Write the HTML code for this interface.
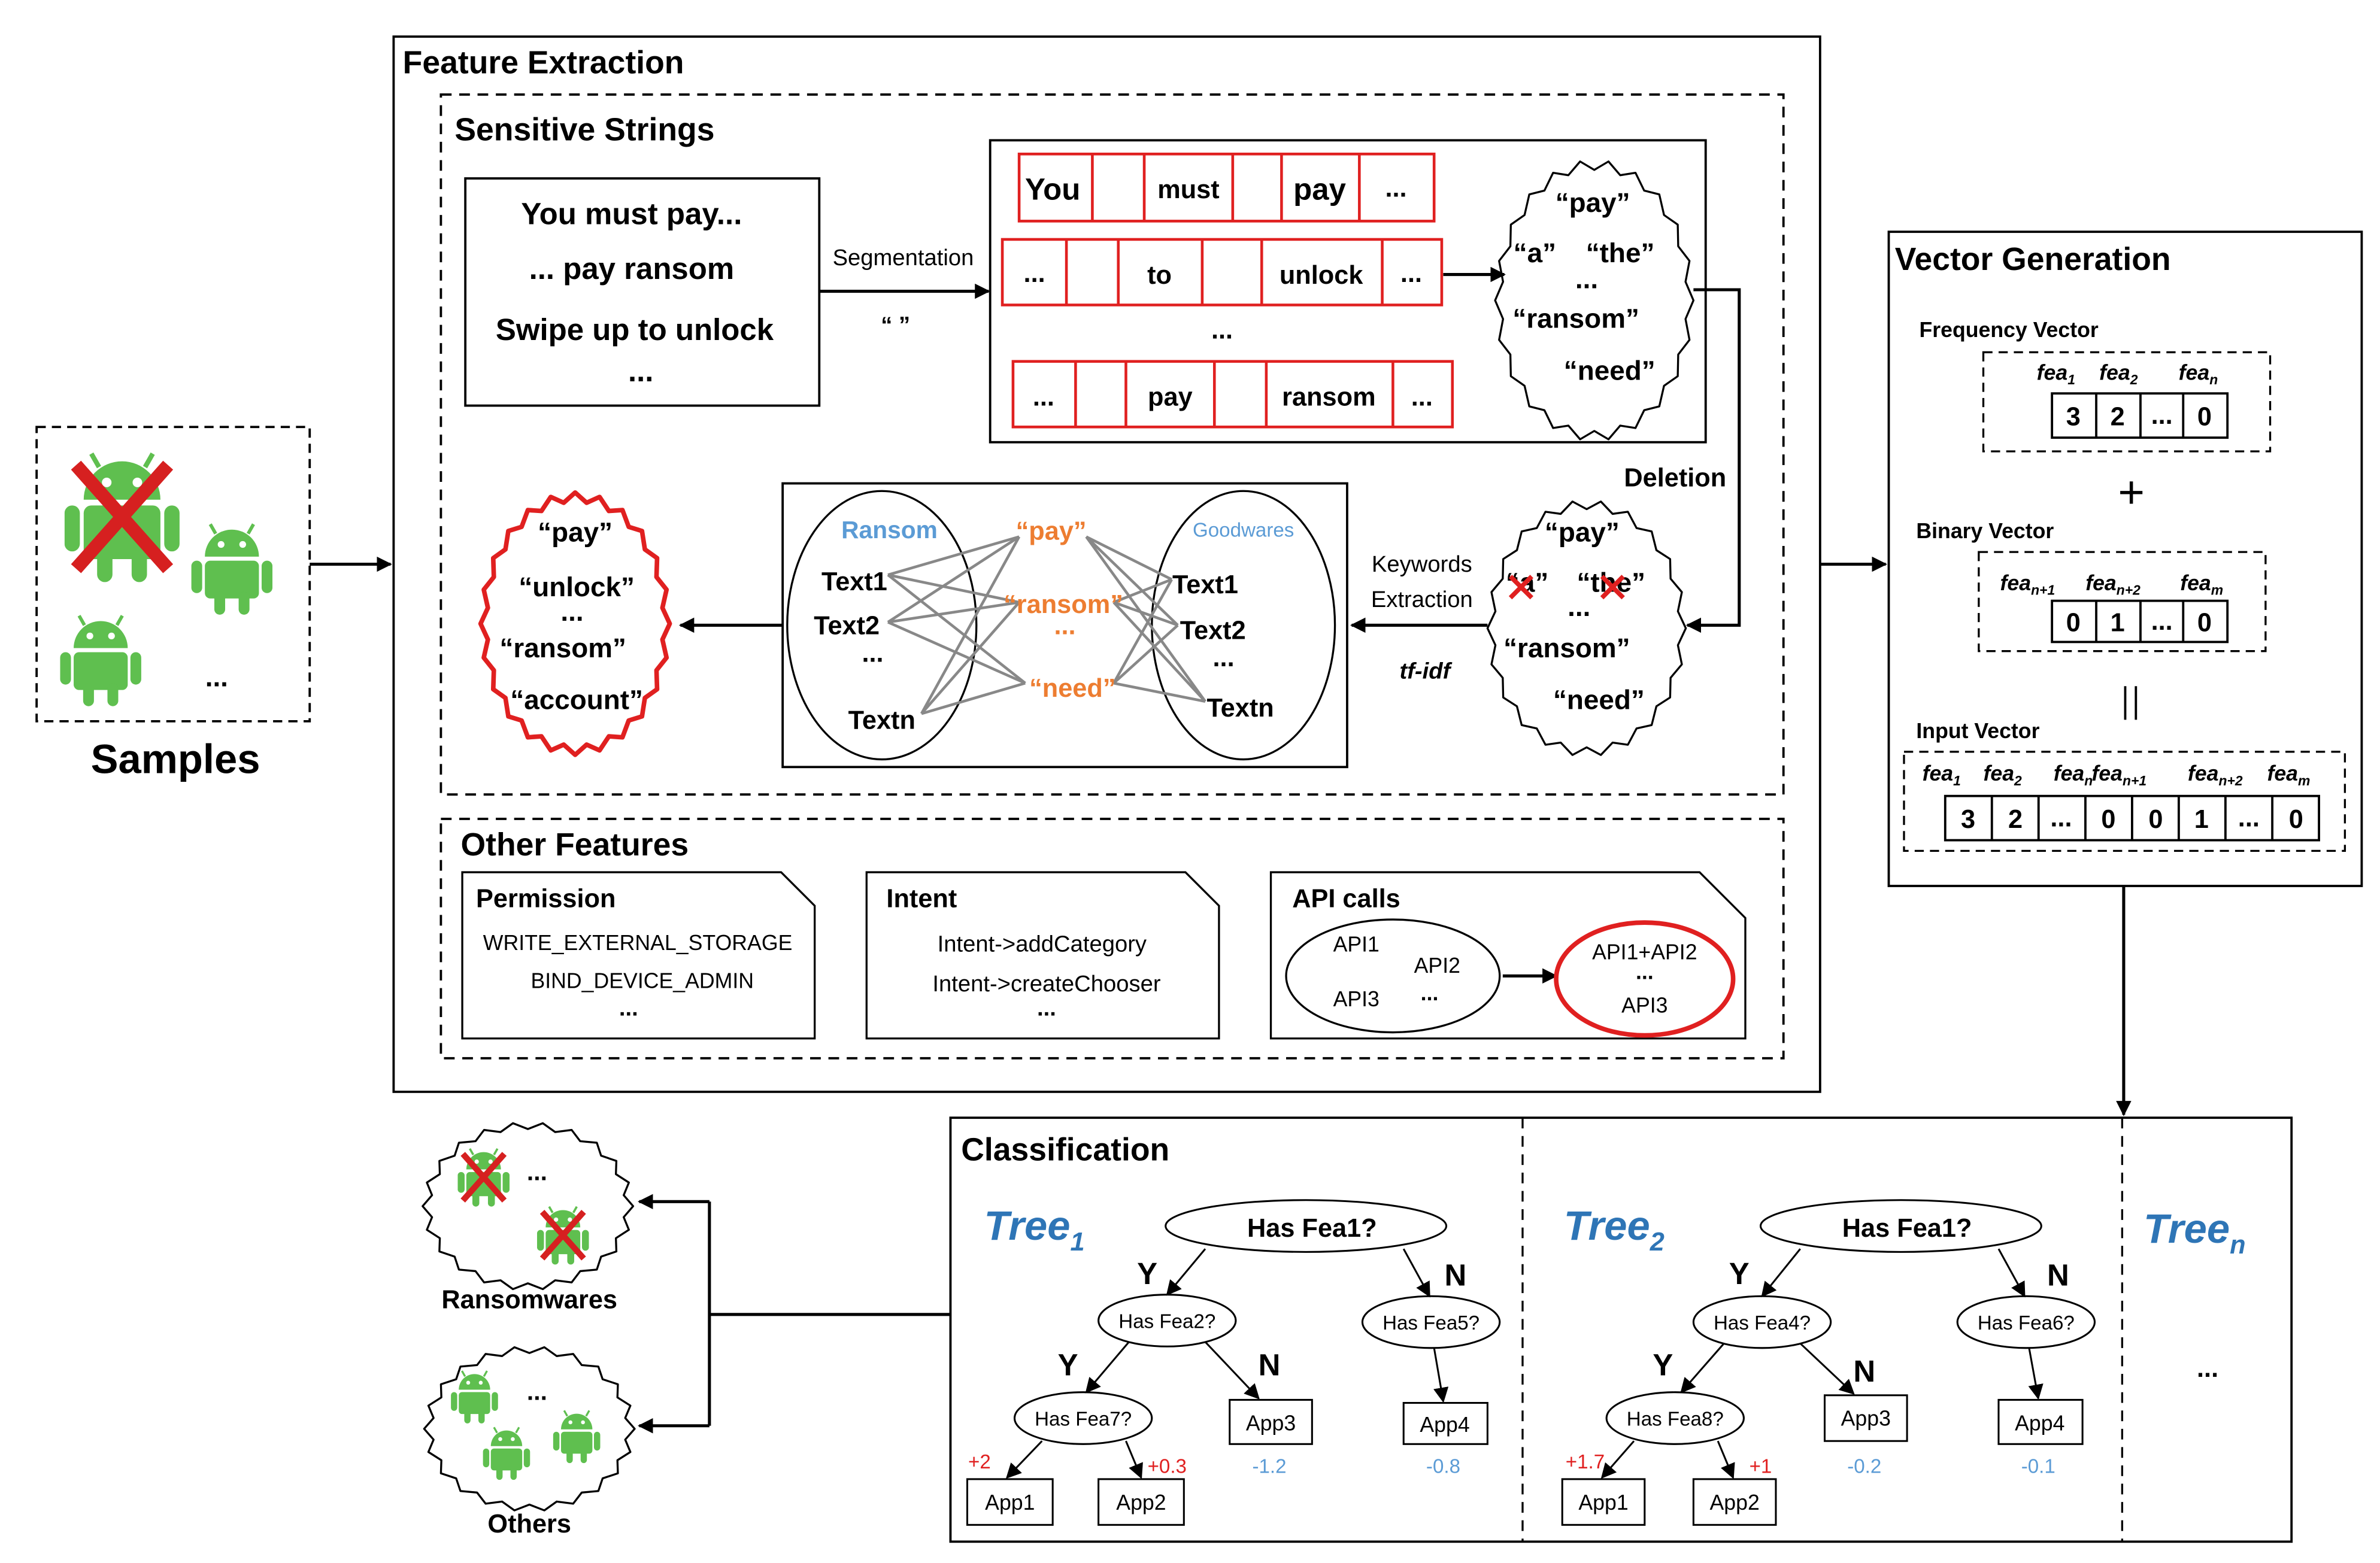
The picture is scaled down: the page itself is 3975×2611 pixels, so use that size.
<!DOCTYPE html>
<html><head><meta charset="utf-8"><style>
html,body{margin:0;padding:0;background:#fff}
svg{display:block}
text{font-family:"Liberation Sans",sans-serif}
.b{font-weight:bold}
</style></head><body>
<svg id="s" width="3975" height="2611" viewBox="0 0 1560 1025" preserveAspectRatio="none" xmlns="http://www.w3.org/2000/svg">
<defs>
<marker id="ar" markerWidth="10" markerHeight="10" refX="9" refY="5" orient="auto" markerUnits="userSpaceOnUse"><path d="M0,0 L10,5 L0,10 z" fill="#000"/></marker>
<symbol id="droid" viewBox="0 0 60 70">
<path d="M10,26 A20,20 0 0 1 50,26 Z" fill="#5fbf4f"/>
<line x1="18" y1="9" x2="14" y2="2" stroke="#5fbf4f" stroke-width="2.5"/>
<line x1="42" y1="9" x2="46" y2="2" stroke="#5fbf4f" stroke-width="2.5"/>
<circle cx="22" cy="17" r="2.5" fill="#fff"/><circle cx="38" cy="17" r="2.5" fill="#fff"/>
<rect x="10" y="29" width="40" height="28" rx="4" fill="#5fbf4f"/>
<rect x="0" y="29" width="8" height="24" rx="4" fill="#5fbf4f"/>
<rect x="52" y="29" width="8" height="24" rx="4" fill="#5fbf4f"/>
<rect x="17" y="52" width="8" height="17" rx="4" fill="#5fbf4f"/>
<rect x="35" y="52" width="8" height="17" rx="4" fill="#5fbf4f"/>
</symbol>
<symbol id="bad" viewBox="0 0 60 70">
<use href="#droid" width="60" height="70"/>
<path d="M6,8 L54,62 M54,8 L6,62" stroke="#d62020" stroke-width="7"/>
</symbol>
</defs>
<rect width="1560" height="1025" fill="#fff"/>

<!-- Samples -->
<rect x="24" y="280" width="179" height="193" fill="none" stroke="#000" stroke-width="1.5" stroke-dasharray="6,4"/>
<use href="#bad" x="42" y="295" width="76" height="88"/>
<use href="#droid" x="124" y="342" width="56" height="62"/>
<use href="#droid" x="38" y="402" width="56" height="62"/>
<text x="142" y="450" class="b" font-size="18" text-anchor="middle">...</text>
<text x="115" y="507" class="b" font-size="27" text-anchor="middle">Samples</text>
<line x1="203" y1="370" x2="256" y2="370" stroke="#000" stroke-width="2" marker-end="url(#ar)"/>

<!-- Feature Extraction -->
<rect x="258" y="24" width="935" height="692" fill="none" stroke="#000" stroke-width="1.5"/>
<text x="264" y="48" class="b" font-size="21">Feature Extraction</text>
<rect x="289" y="62" width="880" height="459" fill="none" stroke="#000" stroke-width="1.5" stroke-dasharray="7,5"/>
<text x="298" y="92" class="b" font-size="21">Sensitive Strings</text>
<rect x="305" y="117" width="232" height="149" fill="none" stroke="#000" stroke-width="1.5"/>
<g class="b" font-size="20" text-anchor="middle">
<text x="414" y="147">You must pay...</text>
<text x="414" y="183">... pay ransom</text>
<text x="416" y="223">Swipe up to unlock</text>
<text x="420" y="250">...</text>
</g>
<text x="592" y="174" font-size="15" text-anchor="middle">Segmentation</text>
<text x="587" y="218" class="b" font-size="15" text-anchor="middle">“ ”</text>
<line x1="537" y1="191" x2="648" y2="191" stroke="#000" stroke-width="2" marker-end="url(#ar)"/>
<rect x="649" y="92" width="469" height="198" fill="none" stroke="#000" stroke-width="1.5"/>
<g fill="none" stroke="#e02020" stroke-width="1.8">
<rect x="668" y="101" width="272" height="44"/><path d="M716,101V145M750,101V145M808,101V145M840,101V145M891,101V145"/>
<rect x="657" y="157" width="288" height="43"/><path d="M699,157V200M733,157V200M788,157V200M827,157V200M906,157V200"/>
<rect x="664" y="237" width="288" height="43"/><path d="M705,237V280M738,237V280M796,237V280M830,237V280M913,237V280"/>
</g>
<g class="b" text-anchor="middle">
<text x="690" y="131" font-size="20">You</text><text x="779" y="130" font-size="17">must</text><text x="865" y="131" font-size="20">pay</text><text x="915" y="129" font-size="17">...</text>
<text x="678" y="185" font-size="17">...</text><text x="760" y="186" font-size="17">to</text><text x="866" y="186" font-size="17">unlock</text><text x="925" y="185" font-size="17">...</text>
<text x="801" y="222" font-size="17">...</text>
<text x="684" y="266" font-size="17">...</text><text x="767" y="266" font-size="17">pay</text><text x="871" y="266" font-size="17">ransom</text><text x="932" y="266" font-size="17">...</text>
</g>
<line x1="946" y1="180" x2="986" y2="180" stroke="#000" stroke-width="2" marker-end="url(#ar)"/>
<polyline points="1110,190 1140,190 1140,410 1106,410" fill="none" stroke="#000" stroke-width="2" marker-end="url(#ar)"/>
<text x="1098" y="319" class="b" font-size="17" text-anchor="middle">Deletion</text>

<g id="clouds"></g>
<ellipse id="fb1" cx="1045" cy="197" rx="63" ry="90" fill="none" stroke="#000" stroke-width="1.3"/>
<ellipse id="fb2" cx="1040" cy="412" rx="63" ry="82" fill="none" stroke="#000" stroke-width="1.3"/>
<ellipse id="fb3" cx="377" cy="409" rx="60" ry="84" fill="none" stroke="#e02020" stroke-width="3"/>
<ellipse id="fb4" cx="346" cy="791" rx="67" ry="53" fill="none" stroke="#000" stroke-width="1.3"/>
<ellipse id="fb5" cx="347" cy="937" rx="67" ry="52" fill="none" stroke="#000" stroke-width="1.3"/>

<g class="b" font-size="18" text-anchor="middle">
<text x="1044" y="139">“pay”</text><text x="1006" y="172">“a”</text><text x="1062" y="172">“the”</text><text x="1040" y="189">...</text>
<text x="1033" y="215">“ransom”</text><text x="1055" y="249">“need”</text>
<text x="1037" y="355">“pay”</text><text x="1001" y="388">“a”</text><text x="1056" y="388">“the”</text><text x="1035" y="404">...</text>
<text x="1027" y="431">“ransom”</text><text x="1048" y="465">“need”</text>
</g>
<path d="M990,378 l14,14 M1004,378 l-14,14 M1050,378 l14,14 M1064,378 l-14,14" stroke="#e02020" stroke-width="3"/>

<line x1="975" y1="410" x2="886" y2="410" stroke="#000" stroke-width="2" marker-end="url(#ar)"/>
<text x="932" y="375" font-size="15" text-anchor="middle">Keywords</text>
<text x="932" y="398" font-size="15" text-anchor="middle">Extraction</text>
<text x="934" y="445" font-size="15" font-style="italic" font-weight="bold" text-anchor="middle">tf-idf</text>

<rect x="513" y="317" width="370" height="186" fill="none" stroke="#000" stroke-width="1.5"/>
<ellipse cx="578" cy="410" rx="62" ry="88" fill="none" stroke="#000" stroke-width="1.3"/>
<ellipse cx="815" cy="410" rx="60" ry="88" fill="none" stroke="#000" stroke-width="1.3"/>
<g stroke="#888" stroke-width="1.8">
<line x1="582" y1="377" x2="668" y2="352"/><line x1="582" y1="377" x2="668" y2="395"/><line x1="582" y1="377" x2="672" y2="448"/>
<line x1="582" y1="408" x2="668" y2="352"/><line x1="582" y1="408" x2="668" y2="395"/><line x1="582" y1="408" x2="672" y2="448"/>
<line x1="604" y1="468" x2="668" y2="352"/><line x1="604" y1="468" x2="668" y2="395"/><line x1="604" y1="468" x2="672" y2="448"/>
<line x1="712" y1="352" x2="768" y2="380"/><line x1="712" y1="352" x2="772" y2="410"/><line x1="712" y1="352" x2="790" y2="460"/>
<line x1="730" y1="395" x2="768" y2="380"/><line x1="730" y1="395" x2="772" y2="410"/><line x1="730" y1="395" x2="790" y2="460"/>
<line x1="730" y1="448" x2="768" y2="380"/><line x1="730" y1="448" x2="772" y2="410"/><line x1="730" y1="448" x2="790" y2="460"/>
</g>
<text x="583" y="353" class="b" font-size="16" fill="#5b9bd5" text-anchor="middle">Ransom</text>
<text x="815" y="352" font-size="13" fill="#5b9bd5" text-anchor="middle">Goodwares</text>
<g class="b" font-size="17" text-anchor="middle">
<text x="560" y="387">Text1</text><text x="555" y="416">Text2</text><text x="572" y="434">...</text><text x="578" y="478">Textn</text>
<text x="790" y="389">Text1</text><text x="795" y="419">Text2</text><text x="802" y="437">...</text><text x="813" y="470">Textn</text>
</g>
<g class="b" font-size="17" fill="#ed7d31" text-anchor="middle">
<text x="689" y="354">“pay”</text><text x="697" y="402">“ransom”</text><text x="698" y="416">...</text><text x="703" y="457">“need”</text>
</g>
<line x1="513" y1="410" x2="446" y2="410" stroke="#000" stroke-width="2" marker-end="url(#ar)"/>
<g class="b" font-size="18" text-anchor="middle">
<text x="377" y="355">“pay”</text><text x="378" y="391">“unlock”</text><text x="375" y="407">...</text>
<text x="369" y="431">“ransom”</text><text x="378" y="465">“account”</text>
</g>

<!-- Other features -->
<rect x="289" y="537" width="880" height="157" fill="none" stroke="#000" stroke-width="1.5" stroke-dasharray="7,5"/>
<text x="302" y="561" class="b" font-size="21">Other Features</text>
<g fill="none" stroke="#000" stroke-width="1.3">
<path d="M303,572 H512 L534,594 V681 H303 Z"/>
<path d="M568,572 H777 L799,594 V681 H568 Z"/>
<path d="M833,572 H1114 L1144,602 V681 H833 Z"/>
</g>
<text x="312" y="595" class="b" font-size="17">Permission</text>
<text x="418" y="623" font-size="14" text-anchor="middle">WRITE_EXTERNAL_STORAGE</text>
<text x="421" y="648" font-size="14" text-anchor="middle">BIND_DEVICE_ADMIN</text>
<text x="412" y="666" class="b" font-size="15" text-anchor="middle">...</text>
<text x="581" y="595" class="b" font-size="17">Intent</text>
<text x="683" y="624" font-size="15" text-anchor="middle">Intent-&gt;addCategory</text>
<text x="686" y="650" font-size="15" text-anchor="middle">Intent-&gt;createChooser</text>
<text x="686" y="666" class="b" font-size="15" text-anchor="middle">...</text>
<text x="847" y="595" class="b" font-size="17">API calls</text>
<ellipse cx="913" cy="640" rx="70" ry="37" fill="none" stroke="#000" stroke-width="1.3"/>
<g font-size="14" text-anchor="middle">
<text x="889" y="624">API1</text><text x="942" y="638">API2</text><text x="889" y="660">API3</text><text x="937" y="656" class="b">...</text>
</g>
<line x1="985" y1="640" x2="1020" y2="640" stroke="#000" stroke-width="2" marker-end="url(#ar)"/>
<ellipse cx="1078" cy="642" rx="58" ry="37" fill="none" stroke="#e02020" stroke-width="3"/>
<g font-size="14" text-anchor="middle">
<text x="1078" y="629">API1+API2</text><text x="1078" y="642" class="b">...</text><text x="1078" y="664">API3</text>
</g>

<!-- Vector Generation -->
<line x1="1193" y1="370" x2="1236" y2="370" stroke="#000" stroke-width="2" marker-end="url(#ar)"/>
<rect x="1238" y="152" width="310" height="429" fill="none" stroke="#000" stroke-width="1.5"/>
<text x="1242" y="177" class="b" font-size="21">Vector Generation</text>
<text x="1258" y="221" class="b" font-size="14">Frequency Vector</text>
<rect x="1300" y="231" width="188" height="65" fill="none" stroke="#000" stroke-width="1.3" stroke-dasharray="6,4"/>
<g font-family="Liberation Serif" font-style="italic" font-size="14" font-weight="bold">
<text x="1335" y="249">fea<tspan font-size="9" dy="3">1</tspan></text><text x="1376" y="249">fea<tspan font-size="9" dy="3">2</tspan></text><text x="1428" y="249">fea<tspan font-size="9" dy="3">n</tspan></text>
<text x="1311" y="387">fea<tspan font-size="9" dy="3">n+1</tspan></text><text x="1367" y="387">fea<tspan font-size="9" dy="3">n+2</tspan></text><text x="1429" y="387">fea<tspan font-size="9" dy="3">m</tspan></text>
<text x="1260" y="512">fea<tspan font-size="9" dy="3">1</tspan></text><text x="1300" y="512">fea<tspan font-size="9" dy="3">2</tspan></text><text x="1346" y="512">fea<tspan font-size="9" dy="3">n</tspan></text><text x="1371" y="512">fea<tspan font-size="9" dy="3">n+1</tspan></text><text x="1434" y="512">fea<tspan font-size="9" dy="3">n+2</tspan></text><text x="1486" y="512">fea<tspan font-size="9" dy="3">m</tspan></text>
</g>
<g fill="none" stroke="#000" stroke-width="1.5">
<rect x="1345" y="258" width="115" height="29"/><path d="M1374,258V287M1403,258V287M1431,258V287"/>
<rect x="1345" y="394" width="115" height="27"/><path d="M1374,394V421M1403,394V421M1431,394V421"/>
<rect x="1275" y="522" width="245" height="29"/><path d="M1305.6,522V551M1336.2,522V551M1366.9,522V551M1397.5,522V551M1428.1,522V551M1458.7,522V551M1489.4,522V551"/>
</g>
<g class="b" font-size="17" text-anchor="middle">
<text x="1359" y="279">3</text><text x="1388" y="279">2</text><text x="1417" y="278">...</text><text x="1445" y="279">0</text>
<text x="1359" y="414">0</text><text x="1388" y="414">1</text><text x="1417" y="413">...</text><text x="1445" y="414">0</text>
<text x="1290" y="543">3</text><text x="1321" y="543">2</text><text x="1351" y="542">...</text><text x="1382" y="543">0</text><text x="1413" y="543">0</text><text x="1443" y="543">1</text><text x="1474" y="542">...</text><text x="1505" y="543">0</text>
</g>
<text x="1397" y="333" font-size="30" text-anchor="middle">+</text>
<text x="1256" y="353" class="b" font-size="14">Binary Vector</text>
<rect x="1297" y="362" width="188" height="65" fill="none" stroke="#000" stroke-width="1.3" stroke-dasharray="6,4"/>
<path d="M1393,450V472M1400,450V472" stroke="#000" stroke-width="1.5"/>
<text x="1256" y="484" class="b" font-size="14">Input Vector</text>
<rect x="1248" y="493" width="289" height="65" fill="none" stroke="#000" stroke-width="1.3" stroke-dasharray="6,4"/>
<line x1="1392" y1="581" x2="1392" y2="731" stroke="#000" stroke-width="2" marker-end="url(#ar)"/>

<!-- Classification -->
<rect x="623" y="733" width="879" height="278" fill="none" stroke="#000" stroke-width="1.5"/>
<path d="M998,733V1011M1391,733V1011" stroke="#000" stroke-width="1.3" stroke-dasharray="7,5"/>
<text x="630" y="761" class="b" font-size="21">Classification</text>
<g font-family="Liberation Serif" font-style="italic" font-weight="bold" font-size="27" fill="#2e75b6">
<text x="645" y="813">Tree<tspan font-size="17" dy="7">1</tspan></text>
<text x="1025" y="813">Tree<tspan font-size="17" dy="7">2</tspan></text>
<text x="1405" y="815">Tree<tspan font-size="17" dy="7">n</tspan></text>
</g>
<text x="1447" y="903" class="b" font-size="17" text-anchor="middle">...</text>

<g id="t1">
<g stroke="#000" stroke-width="1.2" fill="none">
<ellipse cx="856" cy="804" rx="92" ry="17"/>
<ellipse cx="765" cy="866" rx="45" ry="17"/>
<ellipse cx="938" cy="867" rx="45" ry="17"/>
<ellipse cx="710" cy="930" rx="45" ry="17"/>
<rect x="806" y="918" width="54" height="29"/>
<rect x="920" y="920" width="55" height="27"/>
<rect x="634" y="970" width="56" height="30"/>
<rect x="720" y="970" width="56" height="30"/>
<path d="M790,819 L765,849" marker-end="url(#ar)"/><path d="M920,819 L937,850" marker-end="url(#ar)"/>
<path d="M740,880 L712,913" marker-end="url(#ar)"/><path d="M790,880 L825,917" marker-end="url(#ar)"/>
<path d="M940,884 L946,919" marker-end="url(#ar)"/>
<path d="M683,945 L660,969" marker-end="url(#ar)"/><path d="M738,945 L748,969" marker-end="url(#ar)"/>
</g>
<g text-anchor="middle">
<text x="860" y="811" class="b" font-size="17">Has Fea1?</text>
<text x="765" y="871" font-size="13">Has Fea2?</text>
<text x="938" y="872" font-size="13">Has Fea5?</text>
<text x="710" y="935" font-size="13">Has Fea7?</text>
<text x="833" y="938" font-size="14">App3</text><text x="947" y="939" font-size="14">App4</text>
<text x="662" y="990" font-size="14">App1</text><text x="748" y="990" font-size="14">App2</text>
<text x="752" y="842" class="b" font-size="20">Y</text><text x="954" y="843" class="b" font-size="20">N</text>
<text x="700" y="902" class="b" font-size="20">Y</text><text x="832" y="902" class="b" font-size="20">N</text>
</g>
</g>
<g text-anchor="middle" font-size="13">
<text x="642" y="963" fill="#e02020">+2</text><text x="765" y="966" fill="#e02020">+0.3</text>
<text x="832" y="966" fill="#5b9bd5">-1.2</text><text x="946" y="966" fill="#5b9bd5">-0.8</text>
<text x="1039" y="963" fill="#e02020">+1.7</text><text x="1154" y="966" fill="#e02020">+1</text>
<text x="1222" y="966" fill="#5b9bd5">-0.2</text><text x="1336" y="966" fill="#5b9bd5">-0.1</text>
</g>

<g>
<g stroke="#000" stroke-width="1.2" fill="none">
<ellipse cx="1246" cy="804" rx="92" ry="17"/>
<ellipse cx="1155" cy="867" rx="45" ry="17"/>
<ellipse cx="1328" cy="867" rx="45" ry="17"/>
<ellipse cx="1098" cy="930" rx="45" ry="17"/>
<rect x="1196" y="915" width="54" height="30"/>
<rect x="1310" y="918" width="55" height="29"/>
<rect x="1024" y="970" width="54" height="30"/>
<rect x="1110" y="970" width="54" height="30"/>
<path d="M1180,819 L1155,850" marker-end="url(#ar)"/><path d="M1310,819 L1327,850" marker-end="url(#ar)"/>
<path d="M1130,881 L1102,913" marker-end="url(#ar)"/><path d="M1180,881 L1215,914" marker-end="url(#ar)"/>
<path d="M1330,884 L1336,917" marker-end="url(#ar)"/>
<path d="M1071,945 L1050,969" marker-end="url(#ar)"/><path d="M1126,945 L1136,969" marker-end="url(#ar)"/>
</g>
<g text-anchor="middle">
<text x="1250" y="811" class="b" font-size="17">Has Fea1?</text>
<text x="1155" y="872" font-size="13">Has Fea4?</text>
<text x="1328" y="872" font-size="13">Has Fea6?</text>
<text x="1098" y="935" font-size="13">Has Fea8?</text>
<text x="1223" y="935" font-size="14">App3</text><text x="1337" y="938" font-size="14">App4</text>
<text x="1051" y="990" font-size="14">App1</text><text x="1137" y="990" font-size="14">App2</text>
<text x="1140" y="842" class="b" font-size="20">Y</text><text x="1349" y="843" class="b" font-size="20">N</text>
<text x="1090" y="902" class="b" font-size="20">Y</text><text x="1222" y="906" class="b" font-size="20">N</text>
</g>
</g>

<!-- outputs -->
<path d="M623,862 H465" stroke="#000" stroke-width="2"/>
<path d="M465,788 V935" stroke="#000" stroke-width="2"/>
<line x1="465" y1="788" x2="419" y2="788" stroke="#000" stroke-width="2" marker-end="url(#ar)"/>
<line x1="465" y1="935" x2="419" y2="935" stroke="#000" stroke-width="2" marker-end="url(#ar)"/>
<use href="#bad" x="300" y="752" width="34" height="40"/>
<use href="#bad" x="352" y="790" width="34" height="40"/>
<text x="352" y="774" class="b" font-size="16" text-anchor="middle">...</text>
<text x="347" y="858" class="b" font-size="17" text-anchor="middle">Ransomwares</text>
<use href="#droid" x="295" y="898" width="32" height="36"/>
<use href="#droid" x="362" y="924" width="32" height="36"/>
<use href="#droid" x="316" y="935" width="32" height="36"/>
<text x="352" y="918" class="b" font-size="16" text-anchor="middle">...</text>
<text x="347" y="1005" class="b" font-size="17" text-anchor="middle">Others</text>
</svg>
<script>
(function(){
var NS="http://www.w3.org/2000/svg",g=document.getElementById("clouds");
function star(id,cx,cy,rx,ry,n,d,col,w){
 var p=[];for(var i=0;i<2*n;i++){var a=Math.PI*i/n,r=(i%2?1-d:1);p.push((cx+rx*r*Math.cos(a)).toFixed(1)+","+(cy+ry*r*Math.sin(a)).toFixed(1));}
 var e=document.createElementNS(NS,"polygon");e.setAttribute("points",p.join(" "));e.setAttribute("fill","none");e.setAttribute("stroke",col);e.setAttribute("stroke-width",w);e.setAttribute("stroke-linejoin","round");g.appendChild(e);
 var f=document.getElementById(id);if(f)f.parentNode.removeChild(f);
}
star("fb1",1045,197,65,92,22,0.07,"#000",1.3);
star("fb2",1040,412,65,84,22,0.07,"#000",1.3);
star("fb3",377,409,62,86,24,0.07,"#e02020",3);
star("fb4",346,791,69,55,22,0.08,"#000",1.3);
star("fb5",347,937,69,54,22,0.08,"#000",1.3);
})();
</script>
</body></html>
